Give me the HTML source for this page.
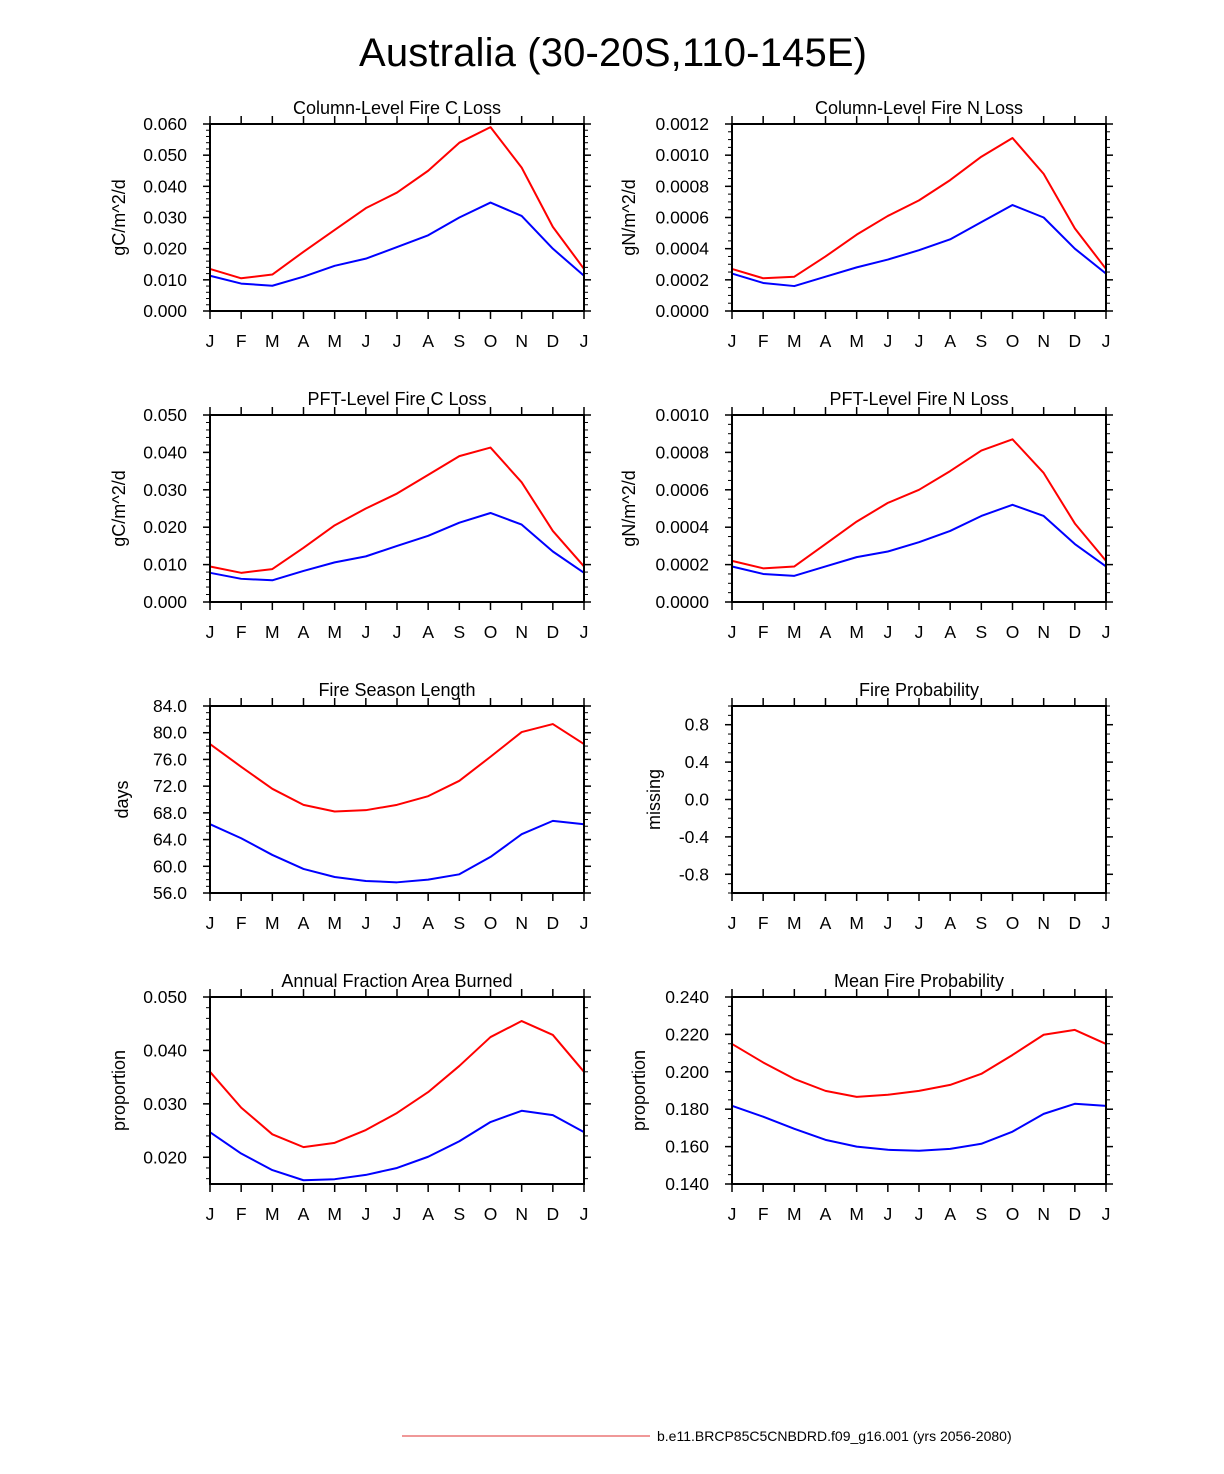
<!DOCTYPE html>
<html><head><meta charset="utf-8"><style>
body{margin:0;background:#fff;}
svg{display:block;font-family:"Liberation Sans",Arial,sans-serif;}
</style></head><body>
<svg id="chart" width="1224" height="1474" viewBox="0 0 1224 1474">
<text x="613" y="66" font-size="40" text-anchor="middle" textLength="508">Australia (30-20S,110-145E)</text>
<line x1="402" y1="1436" x2="650" y2="1436" stroke="#e03030" stroke-width="1"/>
<text x="657" y="1441" font-size="14">b.e11.BRCP85C5CNBDRD.f09_g16.001 (yrs 2056-2080)</text>
</svg>
<script>
const months = ["J","F","M","A","M","J","J","A","S","O","N","D","J"];
const colCRed = [0.0135,0.0105,0.0117,0.019,0.026,0.033,0.038,0.045,0.054,0.059,0.046,0.027,0.0135];
const colCBlue = [0.0113,0.0088,0.0081,0.011,0.0145,0.0168,0.0205,0.0243,0.030,0.0348,0.0305,0.020,0.0113];
const colNRed = [0.00027,0.00021,0.00022,0.00035,0.00049,0.00061,0.00071,0.00084,0.00099,0.00111,0.00088,0.00053,0.00027];
const colNBlue = [0.00024,0.00018,0.00016,0.00022,0.00028,0.00033,0.00039,0.00046,0.00057,0.00068,0.00060,0.00040,0.00024];
const pftCRed = [0.0095,0.0078,0.0088,0.0145,0.0205,0.025,0.029,0.034,0.039,0.0413,0.032,0.019,0.0095];
const pftCBlue = [0.0078,0.0062,0.0058,0.0083,0.0106,0.0122,0.015,0.0177,0.0212,0.0238,0.0207,0.0135,0.0078];
const pftNRed = [0.00022,0.00018,0.00019,0.00031,0.00043,0.00053,0.00060,0.00070,0.00081,0.00087,0.00069,0.00042,0.00022];
const pftNBlue = [0.00019,0.00015,0.00014,0.00019,0.00024,0.00027,0.00032,0.00038,0.00046,0.00052,0.00046,0.00031,0.00019];
const seasonRed = [78.3,74.9,71.6,69.2,68.2,68.4,69.2,70.5,72.8,76.4,80.1,81.3,78.3];
const seasonBlue = [66.3,64.2,61.7,59.6,58.4,57.8,57.6,58.0,58.8,61.4,64.8,66.8,66.3];
const areaRed = [0.036,0.0293,0.0243,0.0219,0.0227,0.0251,0.0283,0.0322,0.0371,0.0425,0.0455,0.0429,0.036];
const areaBlue = [0.0247,0.0207,0.0176,0.0157,0.0159,0.0167,0.018,0.0201,0.023,0.0266,0.0287,0.0279,0.0247];
const meanProbRed = [0.2149,0.205,0.1962,0.1898,0.1866,0.1877,0.1898,0.193,0.1989,0.209,0.2198,0.2224,0.2149];
const meanProbBlue = [0.1818,0.176,0.1695,0.1636,0.16,0.1583,0.1578,0.1588,0.1615,0.168,0.1775,0.1829,0.1818];

const NS="http://www.w3.org/2000/svg";
const svg=document.getElementById('chart');
function mk(tag,attrs,parent){const e=document.createElementNS(NS,tag);for(const k in attrs)e.setAttribute(k,attrs[k]);(parent||svg).appendChild(e);return e;}

const panels=[
 {id:"column-c",title:"Column-Level Fire C Loss",ylab:"gC/m^2/d",x0:210,y0:124,min:0,max:0.06,major:0.01,minor:0.002,dec:3,lab:85,red:colCRed,blue:colCBlue},
 {id:"column-n",title:"Column-Level Fire N Loss",ylab:"gN/m^2/d",x0:732,y0:124,min:0,max:0.0012,major:0.0002,minor:0.00005,dec:4,lab:97,red:colNRed,blue:colNBlue},
 {id:"pft-c",title:"PFT-Level Fire C Loss",ylab:"gC/m^2/d",x0:210,y0:415,min:0,max:0.05,major:0.01,minor:0.002,dec:3,lab:85,red:pftCRed,blue:pftCBlue},
 {id:"pft-n",title:"PFT-Level Fire N Loss",ylab:"gN/m^2/d",x0:732,y0:415,min:0,max:0.001,major:0.0002,minor:0.00005,dec:4,lab:97,red:pftNRed,blue:pftNBlue},
 {id:"season-length",title:"Fire Season Length",ylab:"days",x0:210,y0:706,min:56,max:84,major:4,minor:1,dec:1,lab:82,red:seasonRed,blue:seasonBlue},
 {id:"fire-prob",title:"Fire Probability",ylab:"missing",x0:732,y0:706,min:-1,max:1,major:0.4,minor:0.1,dec:1,first:-0.8,lab:72,red:null,blue:null},
 {id:"area-burned",title:"Annual Fraction Area Burned",ylab:"proportion",x0:210,y0:997,min:0.015,max:0.05,major:0.01,minor:0.002,dec:3,first:0.02,lab:85,red:areaRed,blue:areaBlue},
 {id:"mean-prob",title:"Mean Fire Probability",ylab:"proportion",x0:732,y0:997,min:0.14,max:0.24,major:0.02,minor:0.005,dec:3,lab:87,red:meanProbRed,blue:meanProbBlue}
];
const W=374,H=187;
panels.forEach(p=>{
 const g=mk('g',{});
 
 
 const xS=i=>p.x0+i*W/12;
 const yS=v=>p.y0+H-(v-p.min)/(p.max-p.min)*H;
 const minStart=Math.ceil(p.min/p.minor-1e-6)*p.minor;
 for(let v=minStart; v<=p.max+1e-9; v+=p.minor){
  const y=yS(v);
  mk('line',{x1:p.x0-4,y1:y,x2:p.x0,y2:y,stroke:'#000','stroke-width':1},g);
  mk('line',{x1:p.x0+W,y1:y,x2:p.x0+W+4,y2:y,stroke:'#000','stroke-width':1},g);
 }
 const start=p.first!==undefined?p.first:p.min;
 for(let v=start; v<=p.max+1e-9; v+=p.major){
  const y=yS(v);
  mk('line',{x1:p.x0-7,y1:y,x2:p.x0,y2:y,stroke:'#000','stroke-width':1.5},g);
  mk('line',{x1:p.x0+W,y1:y,x2:p.x0+W+7,y2:y,stroke:'#000','stroke-width':1.5},g);
  const t=mk('text',{x:p.x0-23,y:y+6,'font-size':17.5,'text-anchor':'end'},g);
  
  
  t.textContent=(Math.abs(v)<1e-12?0:v).toFixed(p.dec);
 }
 months.forEach((m,i)=>{
  const x=xS(i);
  mk('line',{x1:x,y1:p.y0-8,x2:x,y2:p.y0,stroke:'#000','stroke-width':1.5},g);
  mk('line',{x1:x,y1:p.y0+H,x2:x,y2:p.y0+H+8,stroke:'#000','stroke-width':1.5},g);
  const t=mk('text',{x:x,y:p.y0+H+36,'font-size':17.5,'text-anchor':'middle'},g);
  
  
  t.textContent=m;
 });
 [[p.red,'#ff0000','red-series'],[p.blue,'#0000ff','blue-series']].forEach(([arr,c,n])=>{
  if(!arr)return;
  const pl=mk('polyline',{points:arr.map((v,i)=>xS(i)+','+yS(v)).join(' '),fill:'none',stroke:c,'stroke-width':2,'stroke-linejoin':'round'},g);
  
  
 });
 const r=mk('rect',{x:p.x0,y:p.y0,width:W,height:H,fill:'none',stroke:'#000','stroke-width':2},g);
 
 
 const tt=mk('text',{x:p.x0+W/2,y:p.y0-10,'font-size':18,'text-anchor':'middle'},g);
 
 
 tt.textContent=p.title;
 const lx=p.x0-p.lab;
 const yl=mk('text',{x:lx,y:p.y0+H/2,'font-size':18,'text-anchor':'middle',transform:`rotate(-90 ${lx} ${p.y0+H/2})`},g);
 
 
 yl.textContent=p.ylab;
});
</script>
</body></html>
